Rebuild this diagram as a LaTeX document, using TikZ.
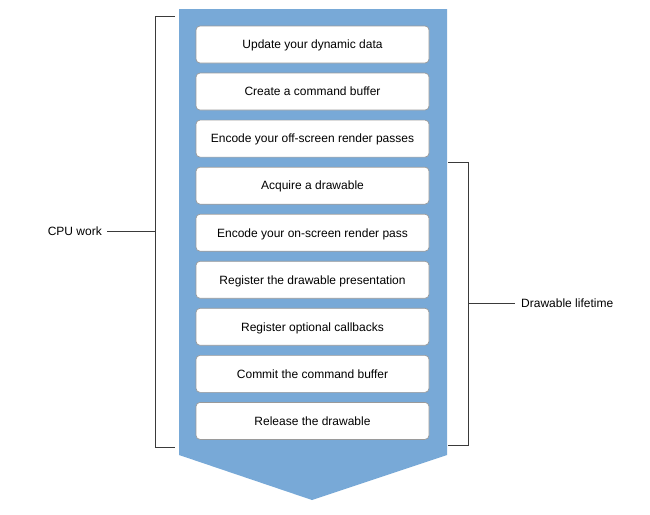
\documentclass[tikz,border=0pt]{standalone}
\usepackage{fontspec}
\setmainfont{Liberation Sans}
\usepackage{tikz}
\usetikzlibrary{positioning}

\definecolor{flowblue}{HTML}{78A9D7}
\definecolor{boxgray}{HTML}{9A9A9A}
\definecolor{bracketgray}{HTML}{3A3A3A}

\begin{document}
\begin{tikzpicture}[
  x=1pt, y=-1pt,
  stage/.style={
    draw=boxgray, fill=white, line width=0.7pt,
    rounded corners=4pt,
    minimum width=233pt, minimum height=37pt,
    text height=8.6pt, text depth=0pt,
    inner sep=0pt, font=\fontsize{12}{14}\selectfont,
  },
  bracket/.style={draw=bracketgray, line width=0.8pt},
  side label/.style={font=\fontsize{12}{14}\selectfont, inner sep=0pt,
    text height=8.6pt, text depth=0pt},
  node distance=9.35pt
  ]
  \useasboundingbox (0,0) rectangle (650,514);
  % the big downward arrow
  \fill [flowblue] (179,9) -- (447,9) -- (447,455) -- (312,500)
    -- (179,455) -- cycle;

  % the stages
  \node [stage] (update) at (312.5,44.5) {Update your dynamic data};
  \node [stage, below=of update] (create) {Create a command buffer};
  \node [stage, below=of create] (offscreen) {Encode your off-screen render passes};
  \node [stage, below=of offscreen] (acquire) {Acquire a drawable};
  \node [stage, below=of acquire] (onscreen) {Encode your on-screen render pass};
  \node [stage, below=of onscreen] (present) {Register the drawable presentation};
  \node [stage, below=of present] (callbacks) {Register optional callbacks};
  \node [stage, below=of callbacks] (commit) {Commit the command buffer};
  \node [stage, below=of commit] (release) {Release the drawable};

  % CPU work bracket
  \coordinate (cpu top) at (175,16);
  \coordinate (cpu bottom) at (175,447);
  \coordinate (cpu mid) at (155,231);
  \node [side label, anchor=east] (cpu) at (102,231) {CPU work};
  \draw [bracket] (cpu top) -- (155,16) -- (155,447) -- (cpu bottom);
  \draw [bracket] (cpu.east) ++(5,0) -- (cpu mid);

  % drawable lifetime bracket
  \coordinate (life top) at (448,162);
  \coordinate (life bottom) at (448,445);
  \coordinate (life mid) at (468,303);
  \node [side label, anchor=west] (life) at (521,303) {Drawable lifetime};
  \draw [bracket] (life top) -- (468,162) -- (468,445) -- (life bottom);
  \draw [bracket] (life mid) -- ([xshift=-6pt]life.west);
\end{tikzpicture}
\end{document}
